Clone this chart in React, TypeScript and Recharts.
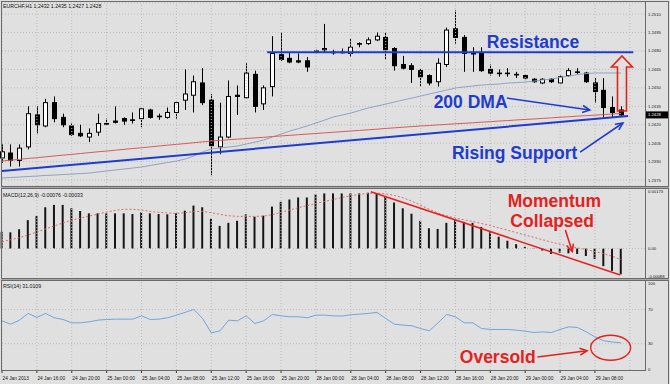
import React from "react"
import { Bar, ComposedChart, Line, ReferenceDot, ReferenceLine, XAxis, YAxis, CartesianGrid } from "recharts"

// EURCHF H1, 24 Jan 12:00 -> 29 Jan 11:00 (72 bars)
const timeTicks = [0, 4, 8, 12, 16, 20, 24, 28, 32, 36, 40, 44, 48, 52, 56, 60, 64, 68]
const timeLabels = [
  "24 Jan 2013", "24 Jan 16:00", "24 Jan 20:00", "25 Jan 00:00", "25 Jan 04:00", "25 Jan 08:00",
  "25 Jan 12:00", "25 Jan 16:00", "25 Jan 20:00", "28 Jan 00:00", "28 Jan 04:00", "28 Jan 08:00",
  "28 Jan 12:00", "28 Jan 16:00", "28 Jan 20:00", "29 Jan 00:00", "29 Jan 04:00", "29 Jan 08:00",
]
const gridLines = [0, 4, 8, 12, 16, 20, 24, 28, 32, 36, 40, 44, 48, 52, 56, 60, 64, 68, 72]
const priceTicks = [1.2375, 1.239, 1.2405, 1.242, 1.2435, 1.245, 1.2465, 1.248, 1.2495, 1.251]
const macdTicks = [-0.00088, 0, 0.00173]
const rsiTicks = [0, 30, 70, 100]

const opens = [
  1.2393, 1.2397, 1.2391, 1.2402, 1.2428, 1.2419, 1.2438, 1.2426, 1.2419, 1.2413, 1.241, 1.2414,
  1.2421, 1.2423, 1.2425, 1.2424, 1.2425, 1.2432, 1.2427, 1.2426, 1.243, 1.244, 1.2444, 1.2454,
  1.244, 1.2402, 1.241, 1.2444, 1.2442, 1.2461, 1.2437, 1.2451, 1.2477, 1.2474, 1.2472, 1.2472,
  1.2479, 1.2481, 1.2479, 1.2479, 1.2478, 1.2486, 1.2486, 1.2489, 1.2491, 1.2482, 1.2469, 1.2468,
  1.2464, 1.246, 1.2455, 1.2469, 1.2498, 1.2491, 1.2478, 1.2478, 1.2465, 1.2462, 1.2462, 1.2461,
  1.246, 1.2457, 1.2454, 1.2457, 1.2454, 1.246, 1.2463, 1.2462, 1.2454, 1.2448, 1.2434, 1.2432,
]
const highs = [
  1.2404, 1.2404, 1.2404, 1.2435, 1.2435, 1.2441, 1.2443, 1.2429, 1.2421, 1.242, 1.2417, 1.2429,
  1.2425, 1.2435, 1.2426, 1.243, 1.2434, 1.2433, 1.2429, 1.2434, 1.2439, 1.2465, 1.246, 1.2466,
  1.2445, 1.2438, 1.2456, 1.2452, 1.247, 1.2464, 1.2452, 1.2492, 1.2495, 1.2479, 1.2478, 1.2475,
  1.2481, 1.2502, 1.2481, 1.2482, 1.249, 1.2487, 1.2491, 1.2495, 1.2495, 1.2483, 1.2476, 1.247,
  1.2466, 1.2461, 1.2474, 1.2499, 1.2513, 1.2493, 1.2483, 1.2483, 1.2469, 1.2465, 1.2466, 1.2463,
  1.2461, 1.2458, 1.2458, 1.2458, 1.246, 1.2466, 1.2466, 1.2463, 1.2458, 1.2458, 1.2443, 1.2435,
]
const lows = [
  1.2389, 1.2386, 1.2386, 1.24, 1.2413, 1.2418, 1.2422, 1.2418, 1.2411, 1.241, 1.2406, 1.2411,
  1.242, 1.2421, 1.242, 1.2421, 1.2418, 1.2425, 1.2424, 1.2425, 1.2425, 1.2432, 1.243, 1.2436,
  1.2379, 1.2396, 1.2409, 1.2428, 1.2441, 1.243, 1.2432, 1.2443, 1.2472, 1.247, 1.247, 1.2463,
  1.2478, 1.2479, 1.2477, 1.2478, 1.2475, 1.2483, 1.2485, 1.2488, 1.2473, 1.2464, 1.2465, 1.2454,
  1.2451, 1.2452, 1.2451, 1.2467, 1.2486, 1.2463, 1.2463, 1.2463, 1.246, 1.2459, 1.2459, 1.2458,
  1.2457, 1.2454, 1.2453, 1.2454, 1.2453, 1.2459, 1.2461, 1.2454, 1.2438, 1.2426, 1.2426, 1.2427,
]
const closes = [
  1.2398, 1.2391, 1.2401, 1.2429, 1.242, 1.2438, 1.2425, 1.242, 1.2412, 1.2411, 1.2413, 1.2421,
  1.2421, 1.2422, 1.2423, 1.2424, 1.2433, 1.2426, 1.2427, 1.243, 1.2438, 1.2445, 1.2455, 1.2438,
  1.2403, 1.241, 1.2443, 1.2443, 1.2462, 1.2435, 1.245, 1.2478, 1.2473, 1.2471, 1.2471, 1.2467,
  1.248, 1.2482, 1.2479, 1.2479, 1.2483, 1.2486, 1.2489, 1.2492, 1.2481, 1.2468, 1.2466, 1.2465,
  1.2459, 1.2454, 1.247, 1.2497, 1.2491, 1.2478, 1.2478, 1.2464, 1.2462, 1.2462, 1.2462, 1.2461,
  1.2458, 1.2455, 1.2457, 1.2455, 1.2459, 1.2464, 1.2463, 1.2455, 1.2447, 1.2434, 1.243, 1.2428,
]
// 200 period MA (red) and faster MA (grey-blue)
const maSlow = [
  1.23905, 1.23912, 1.23919, 1.23926, 1.23932, 1.23939, 1.23946, 1.23953, 1.23959, 1.23966, 1.23973, 1.2398,
  1.23986, 1.23993, 1.24, 1.24007, 1.24013, 1.2402, 1.24027, 1.24034, 1.2404, 1.24047, 1.24054, 1.24061,
  1.24068, 1.24073, 1.24078, 1.24083, 1.24088, 1.24093, 1.24098, 1.24104, 1.24109, 1.24114, 1.24119, 1.24124,
  1.24129, 1.24134, 1.24139, 1.24144, 1.24149, 1.24154, 1.24159, 1.24164, 1.2417, 1.24175, 1.2418, 1.24185,
  1.2419, 1.24194, 1.24199, 1.24203, 1.24208, 1.24212, 1.24216, 1.24221, 1.24225, 1.2423, 1.24234, 1.24239,
  1.24243, 1.24247, 1.24252, 1.24256, 1.24261, 1.24265, 1.2427, 1.24274, 1.24278, 1.24283, 1.24287, 1.24292,
]
const maFast = [
  1.23767, 1.23771, 1.23775, 1.23779, 1.23783, 1.23788, 1.23791, 1.23795, 1.23799, 1.23803, 1.23807, 1.23816,
  1.23824, 1.23832, 1.2384, 1.23848, 1.23857, 1.23869, 1.23881, 1.23893, 1.23905, 1.23921, 1.23946, 1.23978,
  1.24003, 1.24011, 1.24019, 1.24027, 1.24043, 1.24059, 1.24076, 1.241, 1.24124, 1.24149, 1.24169, 1.2419,
  1.24214, 1.24238, 1.24263, 1.24279, 1.24295, 1.24316, 1.24336, 1.24352, 1.24368, 1.24385, 1.24401, 1.24417,
  1.24433, 1.2445, 1.24466, 1.24482, 1.24499, 1.24507, 1.24515, 1.24523, 1.24527, 1.24531, 1.24539, 1.24543,
  1.24547, 1.24555, 1.24564, 1.24572, 1.24584, 1.24596, 1.24608, 1.24616, 1.24621, 1.24621, 1.24621, 1.24621,
]
const macdHist = [
  0.0005, 0.00048, 0.00057, 0.00084, 0.00096, 0.00122, 0.00129, 0.00129, 0.00119, 0.00111, 0.00104, 0.00104,
  0.00104, 0.00104, 0.00104, 0.00102, 0.00107, 0.00104, 0.00102, 0.00101, 0.00104, 0.00112, 0.00127, 0.00122,
  0.00088, 0.00067, 0.00076, 0.00082, 0.00101, 0.00094, 0.00097, 0.00124, 0.00138, 0.00145, 0.00151, 0.00151,
  0.0016, 0.00163, 0.00163, 0.00163, 0.00163, 0.00163, 0.00165, 0.00163, 0.00153, 0.00136, 0.00119, 0.00103,
  0.00082, 0.0006, 0.00058, 0.00076, 0.00084, 0.00079, 0.00076, 0.00064, 0.00048, 0.00035, 0.00023, 0.00013,
  0.00005, 0.00001, -0.00006, -0.00016, -0.00012, -0.00014, -0.00016, -0.00022, -0.00031, -0.00052, -0.00066, -0.00076,
]
const macdSignal = [
  0.0002, 0.00026, 0.00032, 0.0004, 0.00049, 0.00058, 0.00067, 0.00076, 0.00084, 0.0009, 0.00096, 0.00102,
  0.00108, 0.00113, 0.00116, 0.00116, 0.00114, 0.0011, 0.00107, 0.00105, 0.00104, 0.00106, 0.00109, 0.0011,
  0.00106, 0.00101, 0.00097, 0.00095, 0.00095, 0.00095, 0.00096, 0.001, 0.00107, 0.00114, 0.00121, 0.00127,
  0.00133, 0.00139, 0.00145, 0.00151, 0.00156, 0.0016, 0.00163, 0.00164, 0.00162, 0.00157, 0.0015, 0.0014,
  0.00128, 0.00116, 0.00105, 0.00097, 0.0009, 0.00085, 0.0008, 0.00074, 0.00068, 0.00061, 0.00054, 0.00047,
  0.0004, 0.00033, 0.00026, 0.00019, 0.00013, 0.00007, 0.00002, -0.00003, -0.00009, -0.00015, -0.00023, -0.00033,
]
const rsiValues = [
  56.8, 52.9, 57.6, 65.5, 60.8, 65.5, 60.4, 58.4, 54.5, 54.5, 55.7, 57.6,
  58.4, 58.8, 58.8, 58.8, 62.7, 58.4, 58.8, 60.4, 63.5, 66.7, 70.2, 59.6,
  42.7, 45.1, 57.6, 56.8, 62.7, 53.7, 56.8, 64.3, 62.7, 61.6, 61.6, 60.4,
  63.5, 63.5, 62.7, 62.4, 63.9, 64.7, 65.5, 66.7, 59.6, 52.9, 51.8, 51.0,
  47.8, 45.1, 54.5, 64.3, 61.6, 54.5, 54.5, 47.8, 46.7, 46.7, 46.7, 45.9,
  44.7, 43.1, 43.9, 43.1, 46.7, 49.8, 49.0, 43.9, 38.0, 33.5, 32.0, 31.01,
]

const bars = opens.map((open, i) => ({
  i,
  open,
  high: highs[i],
  low: lows[i],
  close: closes[i],
  slow: maSlow[i],
  fast: maFast[i],
  hist: macdHist[i],
  signal: macdSignal[i],
  rsi: rsiValues[i],
}))

// drawn trend lines / notes, in (bar index, value)
const supportLine = [{ x: 0, y: 1.23824 }, { x: 71.8, y: 1.24271 }]
const resistanceLine = [{ x: 30.4, y: 1.2479 }, { x: 72.4, y: 1.2479 }]
const upArrow = [{ x: 71.1, y: 1.24312 }, { x: 71.1, y: 1.24759 }]
const dmaArrow = [{ x: 57.9, y: 1.24417 }, { x: 67.4, y: 1.2432 }]
const supportArrow = [{ x: 66.3, y: 1.23978 }, { x: 71.2, y: 1.24214 }]
const momentumLine = [{ x: 42.3, y: 0.00168 }, { x: 70.9, y: -0.00078 }]
const momentumArrow = [{ x: 64.6, y: 0.00055 }, { x: 65.4, y: -0.00009 }]
const oversoldArrow = [{ x: 61.4, y: 14.4 }, { x: 67.1, y: 21.8 }]

const X_DOMAIN: [number, number] = [0, 73.74]
const W = 670
const AXIS_W = 25
const FONT = "'Liberation Sans', Arial, sans-serif"
const BLUE = "#1e3ccf"
const RED = "#e3221e"
const GRID = "#bcbcbc"
const BG = "#e0e0e0"
const FRAME = "#6a6a6a"

function Candle(props: any) {
  const { x, y, width, height, payload } = props
  const { open, high, low, close } = payload
  const top = height >= 0 ? y : y + height
  const h = Math.abs(height)
  const k = h / (high - low)
  const yOf = (v: number) => top + (high - v) * k
  const n = Math.round(x + width / 2 - 0.5)
  const cx = n + 0.5
  const bTop = yOf(Math.max(open, close))
  const bBot = yOf(Math.min(open, close))
  return (
    <g>
      <line x1={cx} x2={cx} y1={top} y2={top + h} stroke="#000" strokeWidth={1} />
      <rect
        x={n - 1.5}
        y={bTop}
        width={4}
        height={Math.max(0.6, bBot - bTop)}
        fill={close > open ? "#fff" : "#000"}
        stroke="#000"
        strokeWidth={1}
      />
    </g>
  )
}

const lineArrow = (color: string) => (p: any) => {
  const { x1, y1, x2, y2 } = p
  const a = Math.atan2(y2 - y1, x2 - x1)
  const len = 8
  const l = [x2 - len * Math.cos(a - 0.45), y2 - len * Math.sin(a - 0.45)]
  const r = [x2 - len * Math.cos(a + 0.45), y2 - len * Math.sin(a + 0.45)]
  return (
    <g>
      <line x1={x1} y1={y1} x2={x2} y2={y2} stroke={color} strokeWidth={1.6} />
      <polyline points={`${l[0]},${l[1]} ${x2},${y2} ${r[0]},${r[1]}`} fill="none" stroke={color} strokeWidth={1.6} />
    </g>
  )
}

function HollowArrow(p: any) {
  const { x1, y1, y2 } = p
  const top = Math.min(y1, y2)
  const bottom = Math.max(y1, y2)
  const s = 4.5
  const hw = 10.5
  const hl = 11
  const pts = [
    [x1 - s, bottom], [x1 - s, top + hl], [x1 - hw, top + hl], [x1, top],
    [x1 + hw, top + hl], [x1 + s, top + hl], [x1 + s, bottom],
  ]
  return <polygon points={pts.map((q) => q.join(",")).join(" ")} fill="none" stroke={RED} strokeWidth={1.6} />
}

const note = (text: string, color: string) => (p: any) => (
  <text x={p.cx} y={p.cy} fill={color} fontSize={17.5} fontWeight="bold" fontFamily={FONT}>
    {text}
  </text>
)

function Ring(p: any) {
  return <ellipse cx={p.cx} cy={p.cy} rx={20} ry={12.5} fill="none" stroke={RED} strokeWidth={1.4} />
}

function PriceTick(p: any) {
  return (
    <text x={p.x} y={p.y} dy={1.5} fontSize={4.2} fontFamily={FONT} fill="#1a1a1a">
      {p.payload.value.toFixed(4)}
    </text>
  )
}

function MacdTick(p: any) {
  const v = p.payload.value
  const dy = v > 0.001 ? 3 : v < 0 ? -0.5 : 1.5
  return (
    <text x={p.x} y={p.y} dy={dy} fontSize={4.2} fontFamily={FONT} fill="#1a1a1a">
      {v === 0 ? "0.00" : v.toFixed(5)}
    </text>
  )
}

function RsiTick(p: any) {
  return (
    <text x={p.x} y={p.y} dy={1.5} fontSize={4.2} fontFamily={FONT} fill="#1a1a1a">
      {String(p.payload.value)}
    </text>
  )
}

function TimeTick(p: any) {
  const idx = timeTicks.indexOf(p.payload.value)
  return (
    <text x={p.x + 0.5} y={p.y + 5} fontSize={4.8} fontFamily={FONT} fill="#1a1a1a">
      {timeLabels[idx]}
    </text>
  )
}

function LastPrice(p: any) {
  const { x, y, width } = p.viewBox
  return (
    <g>
      <rect x={x + width + 1} y={y - 3.5} width={22} height={7} fill="#000" />
      <text x={x + width + 3} y={y} dy={1.5} fontSize={4.2} fontFamily={FONT} fill="#fff">
        {closes[closes.length - 1].toFixed(4)}
      </text>
    </g>
  )
}

const vGrid = (key: string) =>
  gridLines.map((g) => <ReferenceLine key={key + g} x={g} stroke={GRID} strokeDasharray="1 2" />)

function PriceChart() {
  return (
    <ComposedChart width={W} height={188} data={bars} margin={{ top: 3, right: 0, bottom: 2, left: 2 }}>
      <CartesianGrid vertical={false} stroke={GRID} strokeDasharray="1 2" />
      {vGrid("p")}
      <XAxis type="number" dataKey="i" domain={X_DOMAIN} hide />
      <YAxis
        orientation="right"
        width={AXIS_W}
        domain={[1.23702, 1.2519]}
        ticks={priceTicks}
        interval={0}
        tick={PriceTick}
        tickLine={false}
        axisLine={false}
        tickSize={0}
        tickMargin={3}
      />
      <Line dataKey="fast" stroke="#8ea3c3" strokeWidth={1} dot={false} isAnimationActive={false} />
      <Line dataKey="slow" stroke="#d95b58" strokeWidth={1} dot={false} isAnimationActive={false} />
      <ReferenceLine segment={supportLine} stroke={BLUE} strokeWidth={2} />
      <ReferenceLine segment={resistanceLine} stroke={BLUE} strokeWidth={2} />
      <Bar dataKey={(d: any) => [d.low, d.high]} barSize={5} shape={Candle} isAnimationActive={false} />
      <ReferenceLine y={closes[closes.length - 1]} stroke="none" label={LastPrice} />
      <ReferenceLine segment={upArrow} shape={HollowArrow} />
      <ReferenceLine segment={dmaArrow} shape={lineArrow(BLUE)} />
      <ReferenceLine segment={supportArrow} shape={lineArrow(BLUE)} />
      <ReferenceDot x={55.6} y={1.24824} r={0} ifOverflow="visible" shape={note("Resistance", BLUE)} />
      <ReferenceDot x={49.5} y={1.24336} r={0} ifOverflow="visible" shape={note("200 DMA", BLUE)} />
      <ReferenceDot x={51.6} y={1.23921} r={0} ifOverflow="visible" shape={note("Rising Support", BLUE)} />
    </ComposedChart>
  )
}

function MacdChart() {
  return (
    <ComposedChart width={W} height={94} data={bars} margin={{ top: 3, right: 0, bottom: 1, left: 2 }}>
      {vGrid("m")}
      <ReferenceLine y={0} stroke={GRID} strokeDasharray="1 2" />
      <XAxis type="number" dataKey="i" domain={X_DOMAIN} hide />
      <YAxis
        orientation="right"
        width={AXIS_W}
        domain={[-0.0009, 0.00176]}
        ticks={macdTicks}
        interval={0}
        tick={MacdTick}
        tickLine={false}
        axisLine={false}
        tickSize={0}
        tickMargin={3}
      />
      <Bar dataKey="hist" barSize={2} fill="#151515" isAnimationActive={false} />
      <Line dataKey="signal" stroke="#e06a6a" strokeWidth={1} strokeDasharray="2 2" dot={false} isAnimationActive={false} />
      <ReferenceLine segment={momentumLine} stroke={RED} strokeWidth={1.5} />
      <ReferenceLine segment={momentumArrow} shape={lineArrow(RED)} />
      <ReferenceDot x={58.0} y={0.00123} r={0} ifOverflow="visible" shape={note("Momentum", RED)} />
      <ReferenceDot x={58.3} y={0.00064} r={0} ifOverflow="visible" shape={note("Collapsed", RED)} />
    </ComposedChart>
  )
}

function RsiChart() {
  return (
    <ComposedChart width={W} height={106} data={bars} margin={{ top: 3, right: 0, bottom: 0, left: 2 }}>
      {vGrid("r")}
      <ReferenceLine y={30} stroke={GRID} strokeDasharray="1 2" />
      <ReferenceLine y={70} stroke={GRID} strokeDasharray="1 2" />
      <XAxis
        type="number"
        dataKey="i"
        domain={X_DOMAIN}
        ticks={timeTicks}
        interval={0}
        tick={TimeTick}
        tickLine={{ stroke: "#333" }}
        tickSize={3}
        tickMargin={2}
        axisLine={false}
        height={14}
      />
      <YAxis
        orientation="right"
        width={AXIS_W}
        domain={[-0.8, 103.5]}
        ticks={rsiTicks}
        interval={0}
        tick={RsiTick}
        tickLine={false}
        axisLine={false}
        tickSize={0}
        tickMargin={3}
      />
      <Line dataKey="rsi" stroke="#6fa6dc" strokeWidth={1} dot={false} isAnimationActive={false} />
      <ReferenceLine segment={oversoldArrow} shape={lineArrow(RED)} />
      <ReferenceDot x={52.5} y={7.4} r={0} ifOverflow="visible" shape={note("Oversold", RED)} />
      <ReferenceDot x={69.8} y={25.3} r={0} ifOverflow="visible" shape={Ring} />
    </ComposedChart>
  )
}

export default function App() {
  const small = { fontSize: 5.2, fontFamily: FONT, fill: "#111" }
  return (
    <div style={{ position: "absolute", left: 0, top: 0, width: 670, height: 384, background: BG, overflow: "hidden" }}>
      <div style={{ position: "absolute", left: 0, top: 0 }}>
        <PriceChart />
      </div>
      <div style={{ position: "absolute", left: 0, top: 186 }}>
        <MacdChart />
      </div>
      <div style={{ position: "absolute", left: 0, top: 278 }}>
        <RsiChart />
      </div>
      <svg width={670} height={384} style={{ position: "absolute", left: 0, top: 0, pointerEvents: "none" }}>
        <g stroke={FRAME} strokeWidth={1} shapeRendering="crispEdges">
          <line x1={1} y1={1.5} x2={669} y2={1.5} />
          <line x1={1.5} y1={1} x2={1.5} y2={371} />
          <line x1={645.5} y1={1} x2={645.5} y2={371} />
          <line x1={668.5} y1={1} x2={668.5} y2={384} />
          <line x1={1} y1={370.5} x2={646} y2={370.5} />
          <line x1={1} y1={186.5} x2={669} y2={186.5} />
          <line x1={1} y1={188.5} x2={669} y2={188.5} />
          <line x1={1} y1={278.5} x2={669} y2={278.5} />
          <line x1={1} y1={280.5} x2={669} y2={280.5} />
        </g>
        <g stroke="#a8a8a8" strokeWidth={1} shapeRendering="crispEdges">
          <line x1={1} y1={187.5} x2={669} y2={187.5} />
          <line x1={1} y1={279.5} x2={669} y2={279.5} />
        </g>
        <text x={3} y={7.8} {...small}>EURCHF,H1 1.2432 1.2435 1.2427 1.2428</text>
        <text x={3} y={196.5} {...small}>MACD(12,26,9) -0.00076 -0.00033</text>
        <text x={3} y={288} {...small}>RSI(14) 31.0109</text>
      </svg>
    </div>
  )
}
